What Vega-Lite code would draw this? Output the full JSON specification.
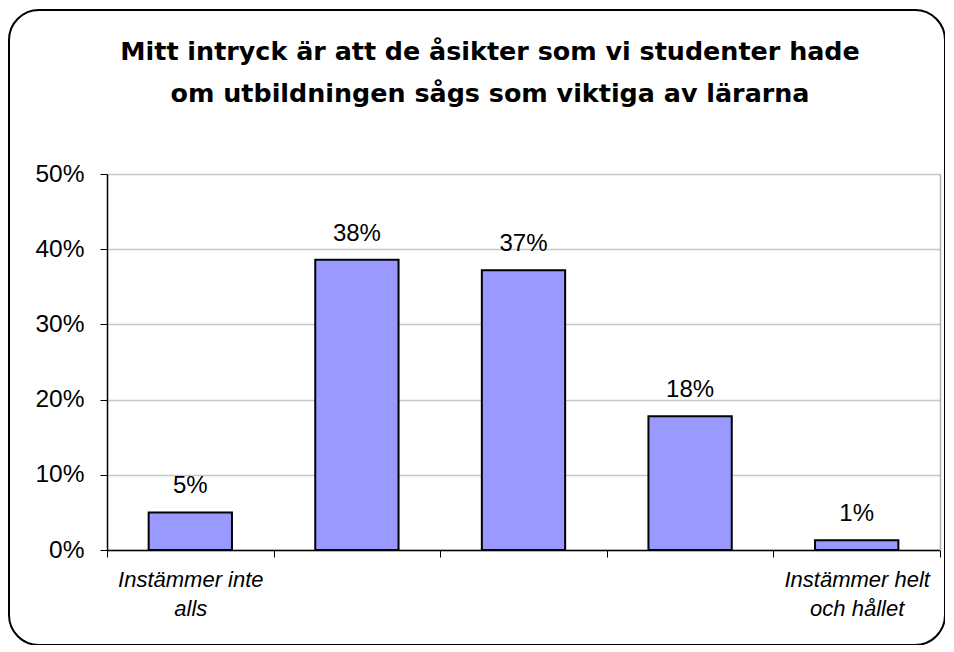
{
  "$schema": "https://vega.github.io/schema/vega-lite/v6.json",
  "autosize": {"type": "none"},
  "padding": {"left": 9, "top": 10, "right": 0, "bottom": 0},
  "width": 936,
  "height": 635,
  "background": "white",
  "config": {
    "font": "Liberation Sans",
    "view": {"stroke": "black", "strokeWidth": 2, "cornerRadius": 30, "fill": "white"}
  },
  "title": {
    "text": ["Mitt intryck är att de åsikter som vi studenter hade", "om utbildningen sågs som viktiga av lärarna"],
    "font": "DejaVu Sans",
    "fontSize": 25.4,
    "fontWeight": "bold",
    "color": "black",
    "anchor": "middle",
    "frame": "group",
    "lineHeight": 42,
    "offset": -97,
    "dx": 13
  },
  "data": {
    "values": [
      {"cat": "1", "v": 0.050, "lab": "5%"},
      {"cat": "2", "v": 0.386, "lab": "38%"},
      {"cat": "3", "v": 0.372, "lab": "37%"},
      {"cat": "4", "v": 0.178, "lab": "18%"},
      {"cat": "5", "v": 0.013, "lab": "1%"}
    ]
  },
  "resolve": {"axis": {"y": "independent"}},
  "layer": [
    {
      "mark": {"type": "bar", "fill": "#9999ff", "stroke": "black", "strokeWidth": 2, "width": {"band": 0.5}},
      "encoding": {
        "x": {
          "field": "cat", "type": "nominal", "sort": null,
          "scale": {"type": "band", "range": [98, 931], "paddingInner": 0, "paddingOuter": 0},
          "axis": {
            "title": null, "orient": "bottom", "offset": -95,
            "tickBand": "extent", "tickSize": 7, "tickColor": "black", "domainColor": "black", "domainWidth": 1.5,
            "labelAngle": 0, "labelFontSize": 22, "labelFontStyle": "italic", "labelColor": "black",
            "labelPadding": 12, "labelLineHeight": 29,
            "labelExpr": "datum.value == '1' ? ['Instämmer inte', 'alls'] : datum.value == '5' ? ['Instämmer helt', 'och hållet'] : ''"
          }
        },
        "y": {
          "field": "v", "type": "quantitative",
          "scale": {"domain": [0, 0.5], "range": [540, 164], "nice": false, "zero": true},
          "axis": {
            "title": null, "orient": "left", "offset": -98,
            "values": [0, 0.1, 0.2, 0.3, 0.4, 0.5], "format": ".0%",
            "grid": true, "gridColor": "#c8c8c8", "gridWidth": 1.5,
            "domainColor": "black", "domainWidth": 1.5, "tickColor": "black", "tickSize": 7,
            "labelFontSize": 24.5, "labelColor": "black", "labelPadding": 16
          }
        }
      }
    },
    {
      "mark": {"type": "text", "baseline": "bottom", "dy": -14, "fontSize": 24, "color": "black"},
      "encoding": {
        "x": {"field": "cat", "type": "nominal", "sort": null},
        "y": {
          "field": "v", "type": "quantitative",
          "axis": {"title": null, "orient": "right", "offset": -5, "grid": false, "ticks": false, "labels": false, "domainColor": "#b0b0b0", "domainWidth": 1.5}
        },
        "text": {"field": "lab"}
      }
    }
  ]
}
